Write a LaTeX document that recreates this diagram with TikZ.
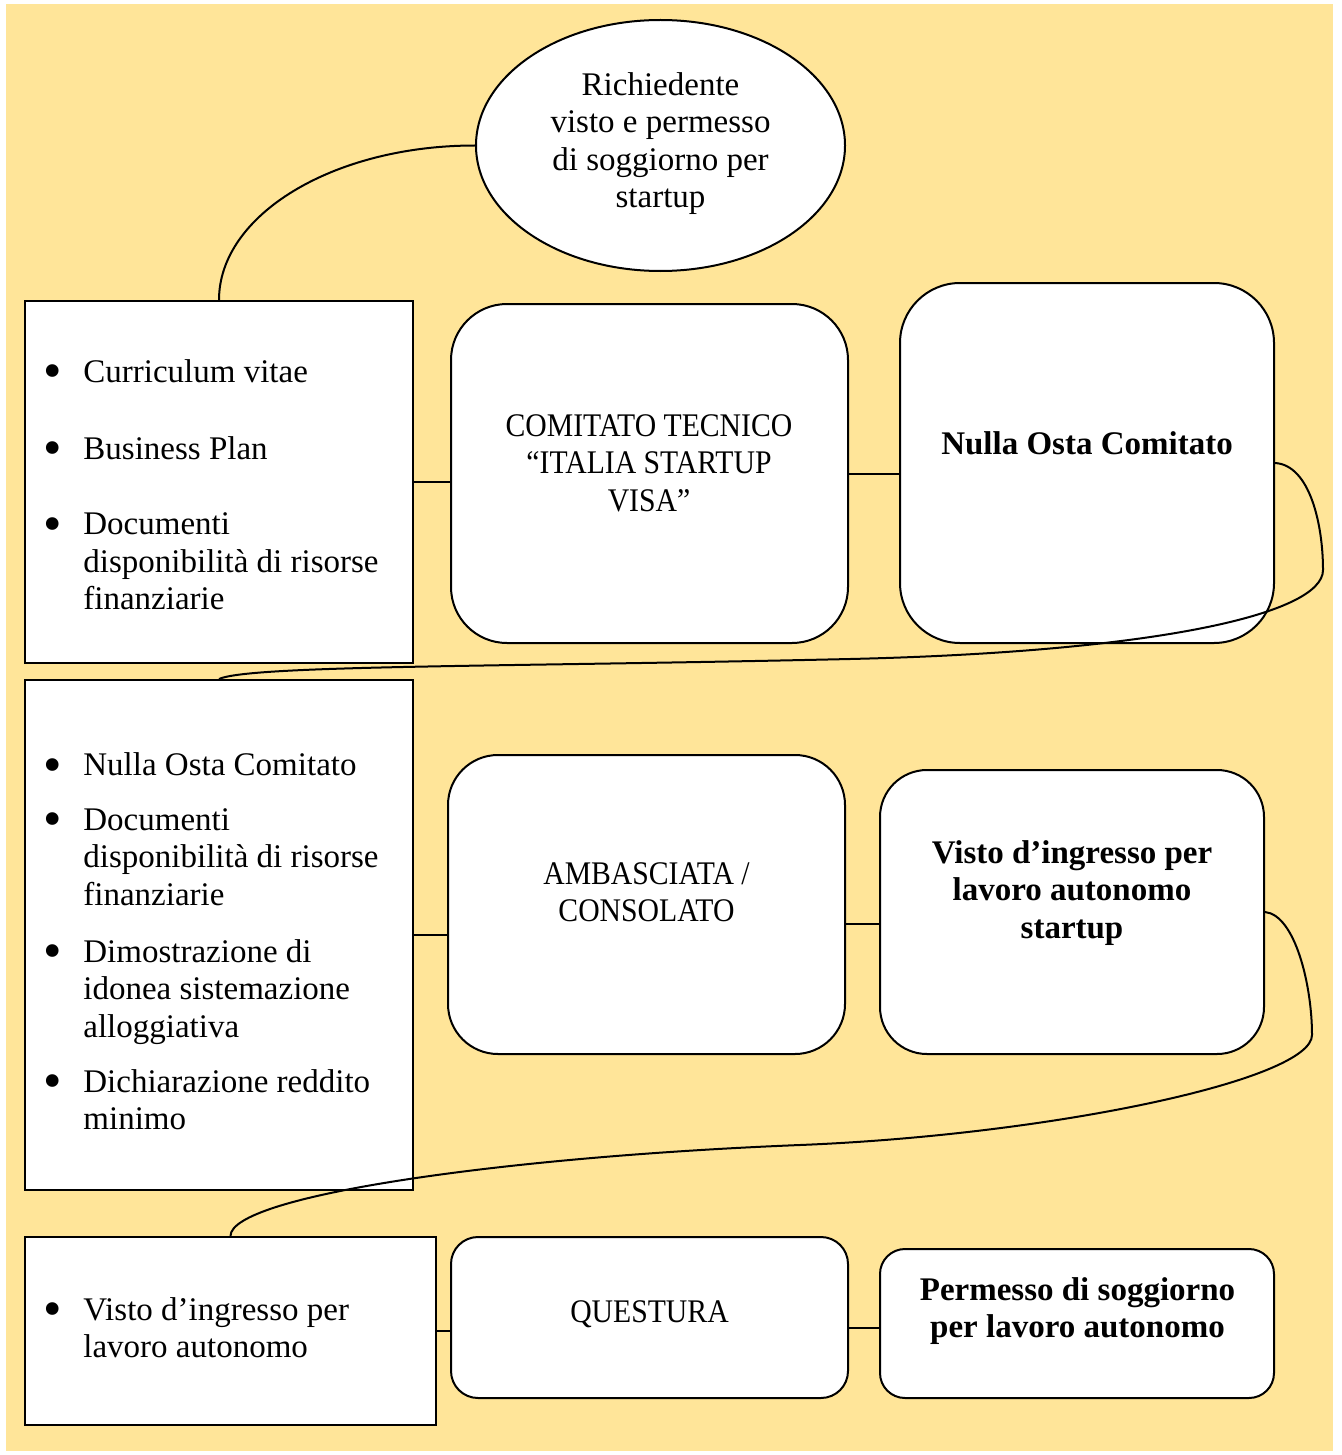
\documentclass[tikz,border=0pt]{standalone}
\usepackage{fontspec}
\setmainfont{Liberation Serif}
\newfontfamily\capsfont[FakeStretch=0.9]{Liberation Serif}
\usepackage{tikz}
\definecolor{bgyellow}{HTML}{FFE599}
\usetikzlibrary{shapes.geometric}
\tikzset{%
  docbox/.style={draw, fill=white, line width=1pt, rectangle, inner sep=0},
  roundbox/.style={draw, fill=white, line width=1pt, rectangle, inner sep=0, rounded corners=#1},
  link/.style={line width=1pt},
  txt/.style={inner sep=0, align=center, anchor=north, font=\fontsize{16.5pt}{18.75pt}\selectfont},
  boldtxt/.style={txt, font=\fontsize{16.5pt}{18.75pt}\selectfont\bfseries},
  capstxt/.style={txt, font=\fontsize{16.5pt}{18.75pt}\capsfont},
  listtxt/.style={txt, align=left, anchor=north west}
}
\newcommand{\itembul}{\makebox[0pt][r]{\raisebox{-3.3pt}{\scalebox{1.6}{\textbullet}}\hspace{10.8pt}}}
\newcommand{\listx}{83}

\begin{document}
\begin{tikzpicture}[x=0.5pt, y=-0.5pt]

\useasboundingbox (0,0) rectangle (1341,1455);
\fill[bgyellow] (6,4) rectangle (1333,1451);

% boxes
\node (richiedente) at (660.5,145.5) [draw, fill=white, line width=1pt, ellipse, inner sep=0, minimum width=184.5pt, minimum height=125.5pt] {};

\node (docsA) at (219,482) [docbox, minimum width=194pt, minimum height=181pt] {};
\node (comitato) at (649.5,473.5) [roundbox=28pt, minimum width=198.5pt, minimum height=169.5pt] {};
\node (nullaosta) at (1087,463) [roundbox=30pt, minimum width=187pt, minimum height=180pt] {};

\node (docsB) at (219,935) [docbox, minimum width=194pt, minimum height=255pt] {};
\node (ambasciata) at (646.5,904.5) [roundbox=25pt, minimum width=198.5pt, minimum height=149.5pt] {};
\node (visto) at (1072,912) [roundbox=23.5pt, minimum width=192pt, minimum height=142pt] {};

\node (docsC) at (230.5,1331) [docbox, minimum width=205.5pt, minimum height=94pt] {};
\node (questura) at (649.5,1317.5) [roundbox=13.5pt, minimum width=198.5pt, minimum height=80.5pt] {};
\node (permesso) at (1077,1323.5) [roundbox=12.5pt, minimum width=197pt, minimum height=74.5pt] {};

% texts
\node (richiedentetxt) at (660.5,72) [txt] {Richiedente\\visto e permesso\\di soggiorno per\\startup};

\node (cv) at (\listx,359) [listtxt] {\itembul Curriculum vitae};
\node (bplan) at (\listx,436) [listtxt] {\itembul Business Plan};
\node (risorseA) at (\listx,512.5) [listtxt] {\itembul Documenti\\disponibilità di risorse\\finanziarie};
\node (comitatotxt) at (649,414) [capstxt] {COMITATO TECNICO\\“ITALIA STARTUP\\VISA”};
\node (nullaostatxt) at (1087,431) [boldtxt] {Nulla Osta Comitato};

\node (nullaostaB) at (\listx,752.5) [listtxt] {\itembul Nulla Osta Comitato};
\node (risorseB) at (\listx,808) [listtxt] {\itembul Documenti\\disponibilità di risorse\\finanziarie};
\node (alloggio) at (\listx,939) [listtxt] {\itembul Dimostrazione di\\idonea sistemazione\\alloggiativa};
\node (reddito) at (\listx,1069) [listtxt] {\itembul Dichiarazione reddito\\minimo};
\node (ambasciatatxt) at (646.5,862) [capstxt] {AMBASCIATA /\\CONSOLATO};
\node (vistotxt) at (1072,840) [boldtxt] {Visto d’ingresso per\\lavoro autonomo\\startup};

\node (vistoC) at (\listx,1297) [listtxt] {\itembul Visto d’ingresso per\\lavoro autonomo};
\node (questuratxt) at (649.5,1300) [capstxt] {QUESTURA};
\node (permessotxt) at (1077.5,1277) [boldtxt] {Permesso di soggiorno\\per lavoro autonomo};

% connectors
\draw[link] (richiedente.west) .. controls +(-142,0) and +(0,-85) .. (docsA.north);
\draw[link] (docsA.east) -- (docsA.east -| comitato.west);
\draw[link] (comitato.east) -- (comitato.east -| nullaosta.west);
\draw[link] (nullaosta.east) .. controls +(35,2) and +(0,-45) .. (1323,570) .. controls +(0,45) and +(300,-7) .. (850,659) .. controls +(-350,8) and +(31,-14) .. (docsB.north);

\draw[link] (docsB.east) -- (docsB.east -| ambasciata.west);
\draw[link] ([yshift=-9.75pt]ambasciata.east) -- ([yshift=-9.75pt]ambasciata.east -| visto.west);
\draw[link] (visto.east) .. controls +(30,3) and +(0,-50) .. (1312,1035) .. controls +(0,45) and +(250,-10) .. (800,1145) .. controls +(-300,12) and +(0,-40) .. (docsC.north);

\draw[link] (docsC.east) -- (docsC.east -| questura.west);
\draw[link] ([yshift=-5pt]questura.east) -- ([yshift=-5pt]questura.east -| permesso.west);

\end{tikzpicture}
\end{document}
